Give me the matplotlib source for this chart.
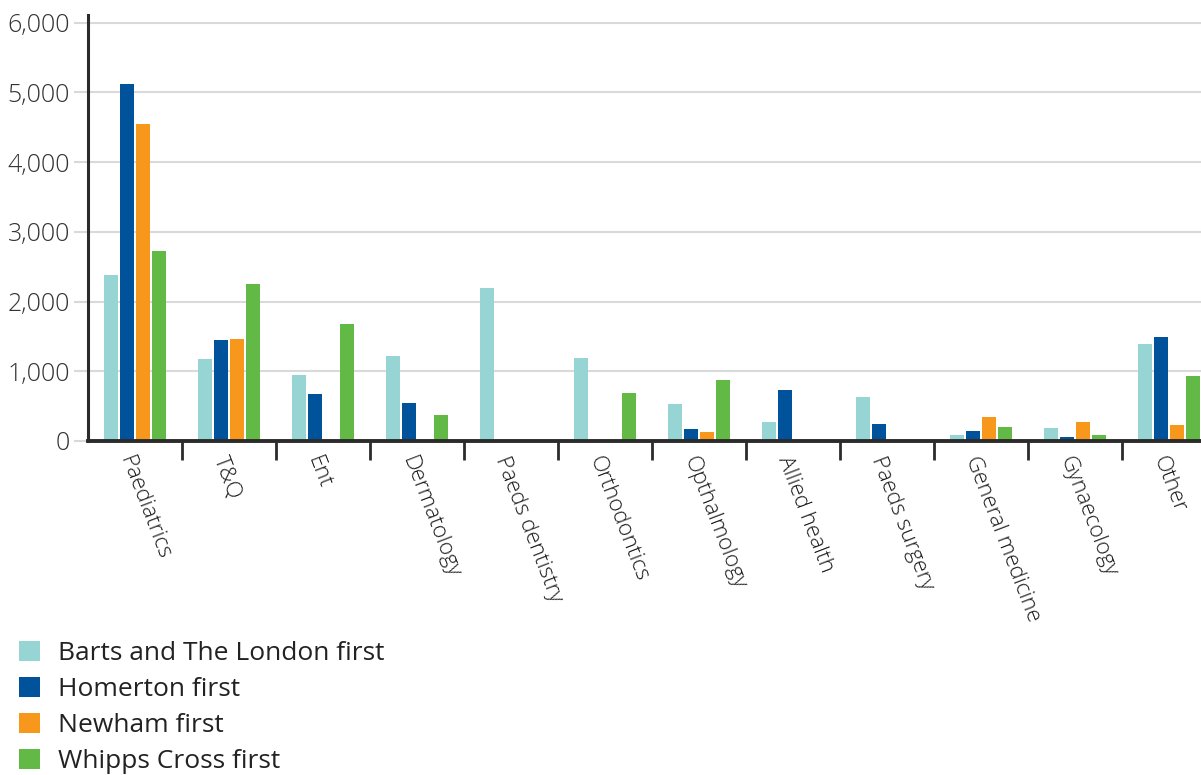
import matplotlib
matplotlib.use("Agg")
import matplotlib.pyplot as plt
import numpy as np
from matplotlib.patches import Patch

categories = ["Paediatrics", "T&Q", "Ent", "Dermatology", "Paeds dentistry",
              "Orthodontics", "Opthalmology", "Allied health", "Paeds surgery",
              "General medicine", "Gynaecology", "Other"]
series_names = ["Barts and The London first", "Homerton first",
                "Newham first", "Whipps Cross first"]
barts = [2380, 1180, 950, 1220, 2200, 1190, 530, 270, 630, 90, 190, 1390]
homerton = [5120, 1450, 670, 550, 0, 0, 170, 730, 240, 140, 60, 1490]
newham = [4550, 1460, 0, 0, 0, 0, 130, 0, 0, 340, 270, 230]
whipps = [2720, 2250, 1680, 370, 0, 690, 880, 0, 0, 200, 90, 930]
yticks = [0, 1000, 2000, 3000, 4000, 5000, 6000]
ytick_labels = ["0", "1,000", "2,000", "3,000", "4,000", "5,000", "6,000"]

colors = ["#97D5D4", "#00529B", "#F7981D", "#62B946"]

plt.rcParams['font.family'] = ['Open Sans', 'DejaVu Sans']
plt.rcParams['font.weight'] = 'light'

fig = plt.figure(figsize=(12.01, 7.75), dpi=100)
ax = fig.add_axes([88/1201, (775-441)/775, 1128/1201, 426/775])

x = np.arange(len(categories))
step = 0.173
width = 0.149
for i, (vals, c) in enumerate(zip([barts, homerton, newham, whipps], colors)):
    ax.bar(x + (i - 1.5) * step, vals, width=width, color=c, zorder=3, linewidth=0)

ax.set_xlim(-0.5, len(categories) - 0.5)
ax.set_ylim(0, 6110)

ax.set_yticks(yticks, ytick_labels)
ax.tick_params(axis='y', length=10, width=1.5, color='#d9d9d9', labelsize=18,
               labelcolor='#333333', pad=3)
ax.grid(axis='y', color='#d9d9d9', linewidth=1.5, zorder=0)

ax.set_xticks(np.arange(len(categories) - 1) + 0.5)
ax.set_xticklabels([])
ax.tick_params(axis='x', which='major', length=14, width=2, color='#2b2b2b')
ax.set_xticks(x, categories, minor=True)
ax.tick_params(axis='x', which='minor', length=0, pad=9, labelsize=16,
               labelcolor='#1a1a1a')
for lab in ax.get_xticklabels(minor=True):
    lab.set_rotation(-69)
    lab.set_ha('left')
    lab.set_va('top')
    lab.set_rotation_mode('anchor')

for s in ['top', 'right']:
    ax.spines[s].set_visible(False)
ax.spines['left'].set_linewidth(2.2)
ax.spines['left'].set_color('#2b2b2b')
ax.spines['bottom'].set_linewidth(2.8)
ax.spines['bottom'].set_color('#2b2b2b')
ax.spines['left'].set_zorder(4)
ax.spines['bottom'].set_zorder(4)

handles = [Patch(facecolor=c, edgecolor='none') for c in colors]
fig.legend(handles, series_names, loc='upper left',
           bbox_to_anchor=(8/1201, 1 - 630/775), frameon=False,
           prop={'family': ['Open Sans', 'DejaVu Sans'], 'weight': 'normal', 'size': 19},
           handlelength=0.83, handleheight=0.83,
           handletextpad=0.68, labelspacing=0.4, borderaxespad=0,
           labelcolor='#222222')

fig.savefig("out.png", dpi=100)
